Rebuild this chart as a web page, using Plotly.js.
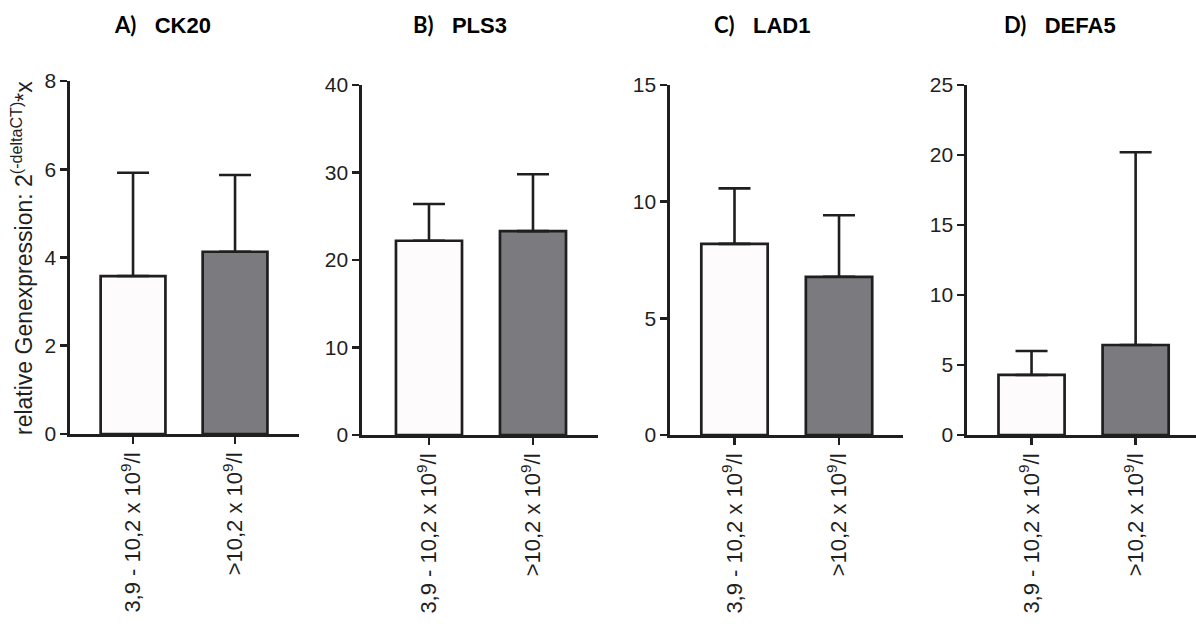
<!DOCTYPE html>
<html>
<head>
<meta charset="utf-8">
<script src="https://cdn.plot.ly/plotly-3.0.1.min.js"></script>
<style>
  html, body { margin: 0; padding: 0; background: #ffffff; }
  #chart { width: 1196px; height: 624px; }
</style>
</head>
<body>
<div id="chart"></div>
<script>
// ---- data ----
const categories = ["3,9 - 10,2 x 10<sup>9</sup>/l", "&gt;10,2 x 10<sup>9</sup>/l"];
const panelLetters = ["A)", "B)", "C)", "D)"];
const genes = ["CK20", "PLS3", "LAD1", "DEFA5"];

const ck20Mean  = [3.58, 4.13];
const ck20SD    = [2.34, 1.74];
const pls3Mean  = [22.2, 23.3];
const pls3SD    = [4.2, 6.5];
const lad1Mean  = [8.19, 6.78];
const lad1SD    = [2.38, 2.64];
const defa5Mean = [4.29, 6.43];
const defa5SD   = [1.71, 13.77];

const yMax      = [8, 40, 15, 25];
const yDtick    = [2, 10, 5, 5];

const yTitle = "relative Genexpression: 2<sup>(-deltaCT)</sup>*x";

// ---- layout geometry (pixels in a 1196x624 page) ----
const W = 1196, H = 624;
const xPix = [[70, 299], [362, 598], [670, 903], [967, 1196]];
const yPix = [[81, 434], [85, 435], [85, 435], [85, 435]];
const xRanges = [[-0.618, 1.627], [-0.644, 1.625], [-0.617, 1.612], [-0.62, 1.58]];
const titleX = [162, 460, 762, 1060];

const means = [ck20Mean, pls3Mean, lad1Mean, defa5Mean];
const sds = [ck20SD, pls3SD, lad1SD, defa5SD];

const ink = "#1f1f1f";
const fills = ["#fdfbfc", "#7a7a7f"];
const FONT = "Arial, 'Liberation Sans', sans-serif";

const traces = [];
const layout = {
  width: W, height: H,
  margin: {l: 0, r: 0, t: 0, b: 0},
  paper_bgcolor: "#ffffff",
  plot_bgcolor: "rgba(0,0,0,0)",
  showlegend: false,
  bargap: 0.365,
  font: {family: FONT, color: ink, size: 20},
  annotations: []
};

for (let i = 0; i < 4; i++) {
  const sfx = i === 0 ? "" : String(i + 1);
  traces.push({
    type: "bar",
    x: categories,
    y: means[i],
    xaxis: "x" + sfx,
    yaxis: "y" + sfx,
    marker: {color: fills, line: {color: ink, width: 2.7}},
    error_y: {type: "data", symmetric: false, array: sds[i], arrayminus: [0, 0],
              color: ink, thickness: 2.6, width: 16},
    hoverinfo: "skip"
  });
  layout["xaxis" + sfx] = {
    domain: [xPix[i][0] / W, xPix[i][1] / W],
    anchor: "y" + sfx,
    type: "category",
    range: xRanges[i],
    showline: true, linecolor: ink, linewidth: 2.6,
    ticks: "outside", ticklen: 7, tickwidth: 2.6, tickcolor: ink,
    tickangle: -90,
    tickfont: {family: FONT, size: 22, color: ink},
    showgrid: false, zeroline: false, automargin: false, fixedrange: true
  };
  layout["yaxis" + sfx] = {
    domain: [1 - yPix[i][1] / H, 1 - yPix[i][0] / H],
    anchor: "x" + sfx,
    range: [0, yMax[i]],
    tick0: 0, dtick: yDtick[i],
    showline: true, linecolor: ink, linewidth: 2.6,
    ticks: "outside", ticklen: 7, tickwidth: 2.6, tickcolor: ink,
    tickfont: {family: FONT, size: 21, color: ink},
    showgrid: false, zeroline: false, automargin: false, fixedrange: true
  };
  layout.annotations.push({
    xref: "paper", yref: "paper",
    x: titleX[i] / W, y: 1 - 25 / H,
    xanchor: "center", yanchor: "middle",
    showarrow: false,
    text: "<span style=\"font-family:Lato, 'Open Sans', sans-serif;font-size:22px\"><b>" + panelLetters[i] +
          "</b></span>&nbsp;&nbsp;&nbsp;<b>" + genes[i] + "</b>",
    font: {family: FONT, size: 22, color: "#000000"}
  });
}

layout.annotations.push({
  xref: "paper", yref: "paper",
  x: 22 / W, y: 1 - 258 / H,
  xanchor: "center", yanchor: "middle",
  textangle: -90,
  showarrow: false,
  text: yTitle,
  font: {family: FONT, size: 23, color: ink}
});

Plotly.newPlot("chart", traces, layout, {staticPlot: true, displayModeBar: false});
</script>
</body>
</html>
